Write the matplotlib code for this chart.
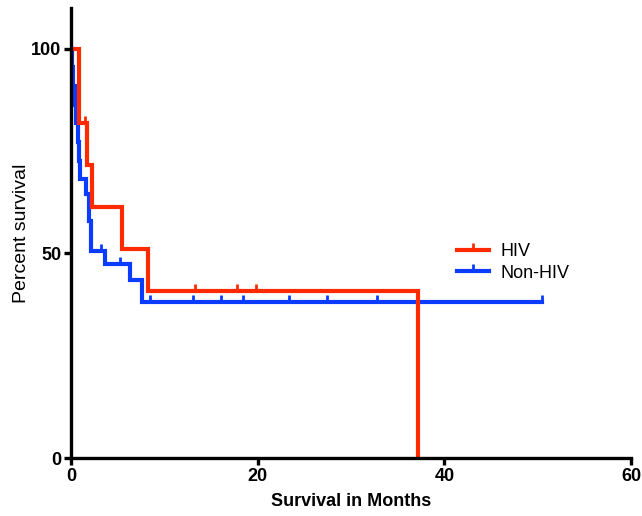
import matplotlib
matplotlib.use("Agg")
import matplotlib.pyplot as plt

plt.rcParams['font.family'] = ['Liberation Sans', 'DejaVu Sans']

# Kaplan-Meier steps (months, percent)
hiv_t = [0, 0.85, 1.75, 2.2, 5.5, 8.2, 37.2]
hiv_s = [100, 81.8, 71.6, 61.4, 51.1, 40.9, 0]
hiv_cens_t = [1.55, 13.3, 17.8, 19.8]
hiv_cens_s = [81.8, 40.9, 40.9, 40.9]

nonhiv_t = [0, 0.1, 0.25, 0.4, 0.55, 0.7, 0.85, 1.0, 1.65, 1.9, 2.15, 3.6, 6.3, 7.6, 50.5]
nonhiv_s = [100, 95.5, 90.9, 86.4, 81.8, 77.3, 72.7, 68.2, 64.6, 58.0, 50.7, 47.5, 43.4, 38.1, 38.1]
nonhiv_cens_t = [3.2, 5.25, 8.5, 13.1, 16.1, 18.4, 23.3, 27.4, 32.8, 50.5]
nonhiv_cens_s = [50.7, 47.5, 38.1, 38.1, 38.1, 38.1, 38.1, 38.1, 38.1, 38.1]

red = '#ff2a00'
blue = '#0a3cff'

fig = plt.figure(figsize=(6.42, 5.16), dpi=100)
ax = fig.add_axes([0.1106, 0.1124, 0.8724, 0.8721])

ax.step(nonhiv_t, nonhiv_s, where='post', color=blue, lw=3, solid_joinstyle='miter')
ax.plot(nonhiv_cens_t, nonhiv_cens_s, ls='none', marker=2, ms=5, mew=2, color=blue)
ax.step(hiv_t, hiv_s, where='post', color=red, lw=3, solid_joinstyle='miter')
ax.plot(hiv_cens_t, hiv_cens_s, ls='none', marker=2, ms=5, mew=2, color=red)

# legend handles
ax.plot([], [], color=red, lw=3, marker=2, ms=5, mew=2, label='HIV')
ax.plot([], [], color=blue, lw=3, marker=2, ms=5, mew=2, label='Non-HIV')
handles, labels = ax.get_legend_handles_labels()
ax.legend(handles, labels, loc='center left', bbox_to_anchor=(0.66, 0.435),
          frameon=False, fontsize=13, handlelength=1.8, handletextpad=0.6,
          labelspacing=0.25)

ax.set_xlim(0, 60)
ax.set_ylim(0, 110)
ax.set_xticks([0, 20, 40, 60])
ax.set_yticks([0, 50, 100])
for s in ['top', 'right']:
    ax.spines[s].set_visible(False)
for s in ['left', 'bottom']:
    ax.spines[s].set_linewidth(2.4)
ax.tick_params(width=2.4, length=5, labelsize=13, pad=2)
for lab in ax.get_xticklabels() + ax.get_yticklabels():
    lab.set_fontweight('bold')

ax.set_xlabel('Survival in Months', fontsize=13, fontweight='bold', labelpad=6)
ax.set_ylabel('Percent survival', fontsize=14, labelpad=1)

fig.savefig('out.png', dpi=100)
